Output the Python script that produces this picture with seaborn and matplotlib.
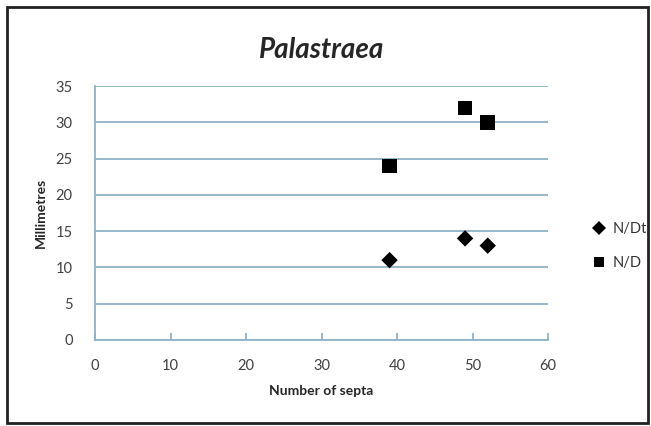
import pandas as pd
import matplotlib.pyplot as plt
import seaborn as sns
from matplotlib.patches import Rectangle

# data
septa = [39, 49, 52]
n_dt = [11, 14, 13]
n_d = [24, 32, 30]
series_names = ["N/Dt", "N/D"]

df = pd.DataFrame({
    "septa": septa + septa,
    "mm": n_dt + n_d,
    "series": [series_names[0]] * len(septa) + [series_names[1]] * len(septa),
})

sns.set_theme(style="white")
plt.rcParams['font.family'] = ['Lato', 'DejaVu Sans']

grid_col = "#8fb3c6"

fig = plt.figure(figsize=(6.51, 4.26), dpi=100)
fig.patch.set_facecolor("white")
ax = fig.add_axes([0.146, 0.202, 0.696, 0.596])

sns.scatterplot(data=df, x="septa", y="mm", hue="series", style="series",
                palette={"N/Dt": "black", "N/D": "black"},
                markers={"N/Dt": "D", "N/D": "s"},
                s=90, edgecolor="black", linewidth=0, ax=ax, zorder=3)
# diamonds a bit smaller than squares
ax.collections[0].set_sizes([70 if m == "N/Dt" else 110 for m in df["series"]])

ax.set_xlim(0, 60)
ax.set_ylim(0, 35)
ax.set_xticks(range(0, 61, 10))
ax.set_yticks(range(0, 36, 5))
ax.yaxis.grid(True, color=grid_col, linewidth=1.3)
ax.set_axisbelow(True)
for side in ["top", "right"]:
    ax.spines[side].set_visible(False)
for side in ["left", "bottom"]:
    ax.spines[side].set_color(grid_col)
    ax.spines[side].set_linewidth(1.3)
ax.tick_params(axis="x", direction="in", length=5, color=grid_col, width=1.3,
               bottom=True, labelsize=10.5, labelcolor="#404040", pad=14)
ax.tick_params(axis="y", left=False, labelsize=10.5, labelcolor="#404040", pad=10)

ax.set_xlabel("Number of septa", fontsize=10, fontweight="bold", labelpad=8)
ax.set_ylabel("Millimetres", fontsize=10, fontweight="bold", labelpad=6)
ax.set_title("Palastraea", fontsize=20, fontweight="bold", style="italic", pad=20)

leg = ax.legend(loc="center left", bbox_to_anchor=(1.05, 0.37), frameon=False,
                fontsize=10.5, handletextpad=0.0, labelspacing=1.4, markerscale=0.75,
                labelcolor="#333333")

fig.add_artist(Rectangle((0.01, 0.008), 0.985, 0.975, transform=fig.transFigure,
                         fill=False, edgecolor="#222222", linewidth=2))

plt.savefig("out.png", dpi=100)
